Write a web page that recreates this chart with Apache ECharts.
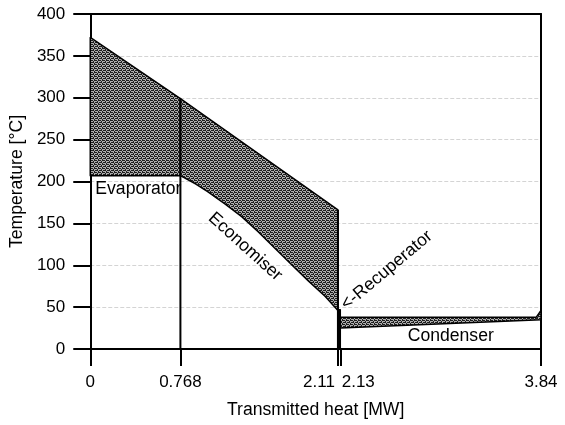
<!DOCTYPE html>
<html><head><meta charset="utf-8">
<script src="https://cdn.jsdelivr.net/npm/echarts@6/dist/echarts.min.js"></script>
<style>html,body{margin:0;padding:0;background:#fff}#c{width:565px;height:425px}</style>
</head><body><div id="c"></div>
<script>
// ---- data ----
const xTickValues = [0, 0.768, 2.11, 2.13, 3.84];
const xTickLabels = ['0', '0.768', '2.11', '2.13', '3.84'];
const yMin = 0, yMax = 400, yStep = 50;
const hotQ = [0, 0.768, 2.11];
const hotT = [372, 299, 166];
const evapColdQ = [0, 0.768];
const evapColdT = [207, 207];
const econColdQ = [0.768, 0.9, 1.0, 1.15, 1.29, 1.43, 1.575, 1.72, 1.86, 2.0, 2.11];
const econColdT = [207, 197, 188, 173, 158, 140, 120, 100, 81, 63, 46];
const recupQ = [2.11, 2.13];
const recupTopT = [47, 47];
const recupBotT = [0, 0];
const condHotQ = [2.13, 3.80, 3.84];
const condHotT = [38, 38, 46];
const condColdQ = [2.13, 3.84];
const condColdT = [25, 35];
const dividerQ = [0.768, 2.11];
const dividerT = [299, 166];
const labelTexts = ['Evaporator', 'Economiser', '<-Recuperator', 'Condenser'];
const labelQ = [0.043, 1.32, 2.526, 3.071];
const labelT = [191, 122, 94, 15];
const labelAngleDeg = [0, -42, 40, 0];

// ---- helpers ----
const zip = (a, b) => a.map((v, i) => [v, b[i]]);
const pc = document.createElement('canvas');
pc.width = 4; pc.height = 4;
const g = pc.getContext('2d');
g.fillStyle = '#adadad'; g.fillRect(0, 0, 4, 4);
g.fillStyle = '#1e1e1e';
[[0,0],[2,0],[3,0],[1,1],[0,2],[1,2],[3,2],[2,3]].forEach(p => g.fillRect(p[0], p[1], 1, 1));
const pattern = { image: pc, repeat: 'repeat' };

const regions = [
  { top: zip(hotQ.slice(0, 2), hotT.slice(0, 2)), bottom: zip(evapColdQ, evapColdT), fill: pattern },
  { top: zip(hotQ.slice(1), hotT.slice(1)), bottom: zip(econColdQ, econColdT), fill: pattern },
  { top: zip(recupQ, recupTopT), bottom: zip(recupQ, recupBotT), fill: '#000' },
  { top: zip(condHotQ, condHotT), bottom: zip(condColdQ, condColdT), fill: pattern }
];

const FONT = "'Liberation Sans', Arial, sans-serif";
const TXT = 17.6;
const chart = echarts.init(document.getElementById('c'), null, { renderer: 'canvas' });

const series = [];
series.push({
  type: 'custom',
  data: regions.map((r, i) => [r.top[0][0], r.top[0][1], i]),
  encode: { x: 0, y: 1 },
  renderItem: function (params, api) {
    const r = regions[params.dataIndex];
    const pts = r.top.concat(r.bottom.slice().reverse()).map(p => api.coord(p));
    return { type: 'polygon', shape: { points: pts },
      style: { fill: r.fill, stroke: '#000', lineWidth: 1.5, lineJoin: 'round' } };
  },
  z: 3, silent: true
});
dividerQ.forEach((q, i) => {
  series.push({ type: 'line', data: [[q, 0], [q, dividerT[i]]], symbol: 'none',
    lineStyle: { color: '#000', width: 2 }, z: 4, silent: true });
});
series.push({
  type: 'custom',
  data: labelTexts.map((t, i) => [labelQ[i], labelT[i], i]),
  encode: { x: 0, y: 1 },
  renderItem: function (params, api) {
    const i = params.dataIndex;
    const p = api.coord([labelQ[i], labelT[i]]);
    return { type: 'text', x: p[0], y: p[1], rotation: labelAngleDeg[i] * Math.PI / 180,
      style: { text: labelTexts[i], fill: '#000', font: TXT + 'px ' + FONT,
        align: i === 0 ? 'left' : 'center', verticalAlign: 'middle' } };
  },
  z: 5, silent: true
});

chart.setOption({
  animation: false,
  backgroundColor: '#fff',
  grid: { left: 90, right: 24, top: 14, bottom: 76 },
  xAxis: [{
    type: 'value', min: 0, max: 3.84, position: 'bottom',
    name: 'Transmitted heat [MW]', nameLocation: 'middle', nameGap: 52,
    nameTextStyle: { fontSize: TXT, color: '#000', fontFamily: FONT },
    axisLine: { show: true, onZero: false, lineStyle: { color: '#000', width: 2 } },
    axisTick: { show: true, customValues: xTickValues, length: 17, lineStyle: { color: '#000', width: 2 } },
    axisLabel: { show: true, customValues: xTickValues, margin: 25, fontSize: 17, color: '#000', fontFamily: FONT,
      formatter: function (v) {
        const i = xTickValues.findIndex(t => Math.abs(t - v) < 1e-9);
        const s = i >= 0 ? xTickLabels[i] : '';
        if (i === 2) return '{l|' + s + '}';
        if (i === 3) return '{r|' + s + '}';
        return s;
      },
      rich: {
        l: { padding: [0, 38, 0, 0], fontSize: 17, color: '#000', fontFamily: FONT },
        r: { padding: [0, 0, 0, 36], fontSize: 17, color: '#000', fontFamily: FONT }
      }
    },
    splitLine: { show: false }
  }, {
    type: 'value', min: 0, max: 3.84, position: 'top',
    axisLine: { show: true, onZero: false, lineStyle: { color: '#000', width: 2 } },
    axisTick: { show: false }, axisLabel: { show: false }, splitLine: { show: false }
  }],
  yAxis: [{
    type: 'value', min: yMin, max: yMax, interval: yStep,
    name: 'Temperature [°C]', nameLocation: 'middle', nameGap: 58, nameRotate: 90,
    nameTextStyle: { fontSize: TXT, color: '#000', fontFamily: FONT },
    axisLine: { show: true, onZero: false, lineStyle: { color: '#000', width: 2 } },
    axisTick: { show: true, length: 17, lineStyle: { color: '#000', width: 2 } },
    axisLabel: { margin: 25, fontSize: 17, color: '#000', fontFamily: FONT },
    splitLine: { show: true, showMinLine: false, showMaxLine: false,
      lineStyle: { type: 'dashed', color: '#d4d4d4', width: 1 } }
  }, {
    type: 'value', min: yMin, max: yMax, position: 'right',
    axisLine: { show: true, onZero: false, lineStyle: { color: '#000', width: 2 } },
    axisTick: { show: false }, axisLabel: { show: false }, splitLine: { show: false }
  }],
  series: series
});
</script>
</body></html>
